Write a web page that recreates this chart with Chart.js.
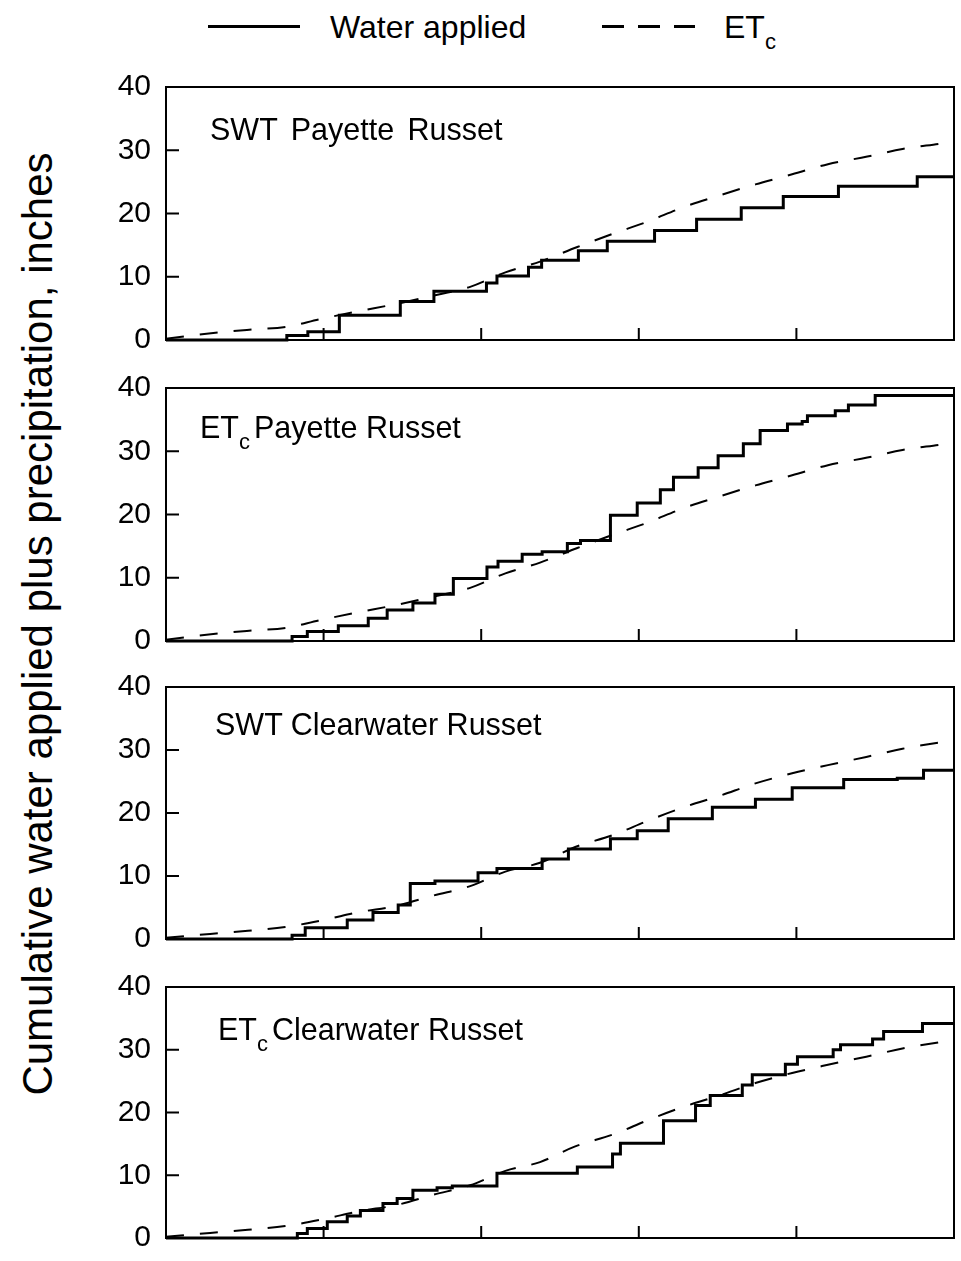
<!DOCTYPE html>
<html>
<head>
<meta charset="utf-8">
<script src="https://cdn.jsdelivr.net/npm/chart.js@4.4.1/dist/chart.umd.min.js"></script>
<style>
  html, body { margin: 0; padding: 0; background: #fff; }
  #page { position: relative; width: 961px; height: 1261px; overflow: hidden;
          font-family: Arial, "Liberation Sans", sans-serif; color: #000; }
  .panel { position: absolute; left: 0; }
  .title { position: absolute; font-size: 30.5px; line-height: 30px; white-space: pre; }
  .sub { font-size: 22px; position: relative; top: 11px; margin-right: 4px; }
  #ylabel { position: absolute; left: -462px; top: 603px; width: 1000px; height: 42px;
            line-height: 42px; font-size: 42px; text-align: center; white-space: nowrap;
            transform: rotate(-90deg); }
  .legText { position: absolute; font-size: 32px; line-height: 30px; white-space: pre; }
  .legSolid { position: absolute; left: 208px; top: 25px; width: 92px; height: 3px; background: #000; }
  .legDash { position: absolute; left: 602px; top: 25px; width: 93px; height: 3px;
             background: repeating-linear-gradient(to right, #000 0 22px, transparent 22px 36px); }
</style>
</head>
<body>
<div id="page">
  <div class="legSolid"></div>
  <div class="legText" style="left:330px; top:12px;">Water applied</div>
  <div class="legDash"></div>
  <div class="legText" style="left:724px; top:12px;">ET<span class="sub">c</span></div>

  <div id="ylabel">Cumulative water applied plus precipitation, inches</div>

  <div class="panel" style="top:54px"><canvas id="c1" width="961" height="319"></canvas></div>
  <div class="panel" style="top:355px"><canvas id="c2" width="961" height="319"></canvas></div>
  <div class="panel" style="top:654px"><canvas id="c3" width="961" height="318"></canvas></div>
  <div class="panel" style="top:954px"><canvas id="c4" width="961" height="317"></canvas></div>

  <div class="title" style="left:210px; top:114px; word-spacing:5px;">SWT Payette Russet</div>
  <div class="title" style="left:200px; top:412px;">ET<span class="sub">c</span>Payette Russet</div>
  <div class="title" style="left:215px; top:709px;">SWT Clearwater Russet</div>
  <div class="title" style="left:218px; top:1014px;">ET<span class="sub">c</span>Clearwater Russet</div>
</div>

<script>
// x = days from start of season (axis has no labels), y = inches
const yTickValues = [0, 10, 20, 30, 40];
const xTickMarks = [30, 60, 90, 120];
const yTickMarks = [10, 20, 30];

const etPayetteDays = [0, 9, 15.4, 23, 29.3, 37, 43.2, 50.3, 57.9, 64.6, 71.2, 78.3, 85.1, 91.6, 98.5, 105.5, 112.2, 119.2, 126, 133.5, 140.2, 147.8, 150];
const etPayette = [0.2, 1.1, 1.6, 2.1, 3.3, 4.6, 5.6, 6.9, 8.4, 10.7, 12.4, 14.7, 16.8, 18.7, 21.0, 22.9, 24.6, 26.2, 27.8, 29.0, 30.2, 31.1, 31.4];

const etClearDays = [0, 8.4, 15.6, 22.7, 29.9, 37, 43.6, 50.9, 57.9, 64.6, 71.2, 77.9, 85.1, 91.8, 98.5, 105.3, 112.2, 119.2, 126, 133.3, 140.2, 147.4, 150];
const etClearwater = [0.2, 0.8, 1.3, 1.9, 3.0, 4.3, 5.2, 6.9, 8.4, 10.7, 12.1, 14.6, 16.5, 18.8, 20.9, 22.7, 24.7, 26.3, 27.6, 28.9, 30.2, 31.2, 31.5];

const swtPayetteDays = [0, 23, 27, 33, 44.6, 51, 61, 63, 69, 71.5, 78.5, 84, 93, 101, 109.5, 117.5, 128, 143, 150];
const swtPayette = [0, 0.7, 1.3, 3.9, 6.1, 7.7, 9.0, 10.1, 11.5, 12.6, 14.1, 15.6, 17.3, 19.1, 20.9, 22.7, 24.3, 25.8, 25.8];

const etcPayetteDays = [0, 24, 26.9, 32.8, 38.5, 42.1, 47, 51.2, 54.7, 61.1, 63.2, 67.8, 71.6, 76.4, 78.9, 84.6, 89.7, 94.1, 96.6, 101.3, 105.1, 109.9, 113.1, 118.3, 121.1, 122.1, 127.4, 129.9, 135, 150];
const etcPayette = [0, 0.7, 1.5, 2.4, 3.6, 4.9, 6.0, 7.4, 9.9, 11.7, 12.6, 13.7, 14.1, 15.4, 15.9, 19.9, 21.8, 23.9, 25.9, 27.4, 29.3, 31.2, 33.3, 34.3, 34.7, 35.6, 36.4, 37.3, 38.8, 38.8];

const swtClearDays = [0, 24, 26.5, 34.5, 39.4, 44.2, 46.5, 51.2, 59.4, 63, 71.6, 76.6, 84.6, 89.7, 95.6, 104, 112.2, 119.2, 129, 139.2, 144.2, 150];
const swtClearwater = [0, 0.6, 1.8, 3.0, 4.2, 5.4, 8.8, 9.2, 10.5, 11.2, 12.7, 14.3, 15.9, 17.2, 19.1, 20.9, 22.2, 24.0, 25.3, 25.5, 26.8, 26.8];

const etcClearDays = [0, 25, 26.9, 30.7, 34.5, 37, 41.3, 44, 47, 51.6, 54.5, 63, 78.3, 85, 86.5, 94.7, 100.8, 103.6, 109.7, 111.6, 117.9, 120.2, 127, 128.4, 134.5, 136.6, 144, 150];
const etcClearwater = [0, 0.7, 1.5, 2.6, 3.5, 4.4, 5.5, 6.3, 7.6, 8.0, 8.3, 10.3, 11.3, 13.4, 15.1, 18.7, 21.1, 22.7, 24.4, 26.0, 27.7, 28.9, 30.0, 30.8, 31.7, 32.9, 34.2, 34.2];

function toPoints(days, values) {
  return days.map((d, i) => ({ x: d, y: values[i] }));
}

const framePlugin = {
  id: "frame",
  afterDraw(chart) {
    const { ctx, chartArea: a, scales } = chart;
    ctx.save();
    ctx.strokeStyle = "#000";
    ctx.lineWidth = 2;
    ctx.strokeRect(a.left, a.top, a.right - a.left, a.bottom - a.top);
    ctx.beginPath();
    yTickMarks.forEach((v) => {
      const py = scales.y.getPixelForValue(v);
      ctx.moveTo(a.left, py);
      ctx.lineTo(a.left + 13, py);
    });
    xTickMarks.forEach((v) => {
      const px = scales.x.getPixelForValue(v);
      ctx.moveTo(px, a.bottom);
      ctx.lineTo(px, a.bottom - 12);
    });
    ctx.stroke();
    ctx.restore();
  }
};

function makePanel(id, waterDays, water, etDays, et) {
  return new Chart(document.getElementById(id), {
    type: "line",
    data: {
      datasets: [
        {
          label: "Water applied",
          data: toPoints(waterDays, water),
          borderColor: "#000",
          borderWidth: 3,
          stepped: true,
          pointRadius: 0,
          fill: false,
          clip: 4
        },
        {
          label: "ETc",
          data: toPoints(etDays, et),
          borderColor: "#000",
          borderWidth: 2,
          borderDash: [18, 16],
          cubicInterpolationMode: "monotone",
          pointRadius: 0,
          fill: false,
          clip: 4
        }
      ]
    },
    options: {
      responsive: false,
      animation: false,
      devicePixelRatio: 1,
      layout: { padding: { top: 20, bottom: 20, left: 0, right: 7 } },
      plugins: { legend: { display: false }, tooltip: { enabled: false } },
      scales: {
        x: { type: "linear", min: 0, max: 150, display: false },
        y: {
          type: "linear",
          min: 0,
          max: 40,
          afterFit: (s) => { s.width = 166; },
          afterBuildTicks: (s) => { s.ticks = yTickValues.map((v) => ({ value: v })); },
          grid: { display: false, drawTicks: false },
          border: { display: false },
          ticks: {
            padding: 15,
            color: "#000",
            font: { family: "Arial, 'Liberation Sans', sans-serif", size: 30 }
          }
        }
      }
    },
    plugins: [framePlugin]
  });
}

makePanel("c1", swtPayetteDays, swtPayette, etPayetteDays, etPayette);
makePanel("c2", etcPayetteDays, etcPayette, etPayetteDays, etPayette);
makePanel("c3", swtClearDays, swtClearwater, etClearDays, etClearwater);
makePanel("c4", etcClearDays, etcClearwater, etClearDays, etClearwater);
</script>
</body>
</html>
